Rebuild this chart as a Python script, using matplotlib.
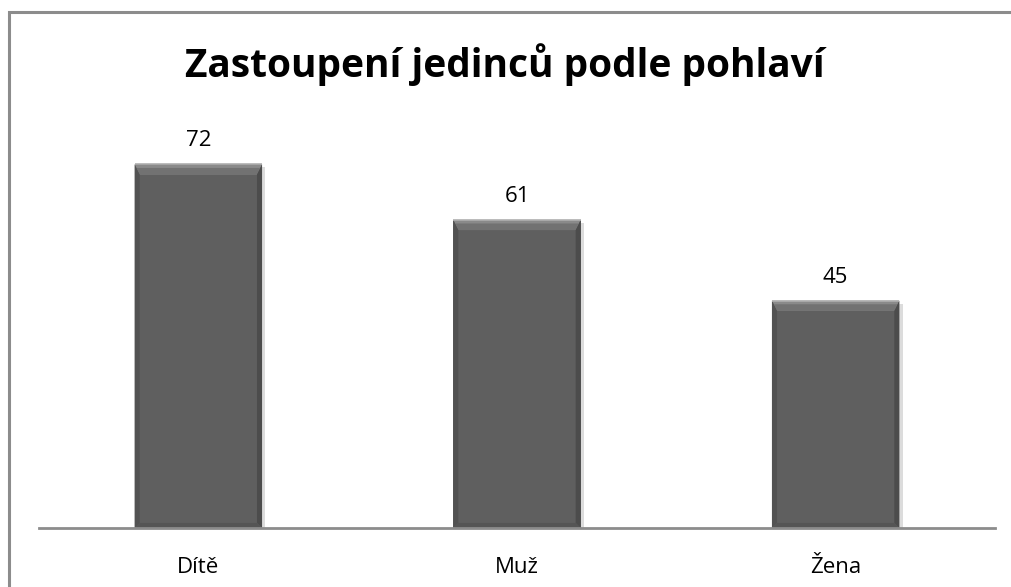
import matplotlib
matplotlib.use("Agg")
import matplotlib.pyplot as plt
from matplotlib.patches import Polygon, Rectangle

# data
categories = ["Dítě", "Muž", "Žena"]
values = [72, 61, 45]
title = "Zastoupení jedinců podle pohlaví"

plt.rcParams['font.family'] = ['Open Sans', 'DejaVu Sans']

fig = plt.figure(figsize=(10.12, 5.87), dpi=100)
fig.patch.set_facecolor("white")

# outer chart frame (only left/top visible in the crop)
frame = Rectangle((9 / 1012, -0.1), 1.2, 1 - 12 / 587 + 0.1, transform=fig.transFigure,
                  fill=False, edgecolor="#8c8c8c", linewidth=2.2)
fig.add_artist(frame)

ax = fig.add_axes([39 / 1012, 1 - 528 / 587, 956 / 1012, (528 - 124) / 587])
x = list(range(len(categories)))
bars = ax.bar(x, values, width=0.4, color="#5f5f5f", edgecolor="none", zorder=2)

ax.set_xlim(-0.5, len(categories) - 0.5)
ax.set_ylim(0, 80)

# bevel effect on each bar
dx = 0.016
dy = 2.0
for b in bars:
    x0, w, h = b.get_x(), b.get_width(), b.get_height()
    x1 = x0 + w
    # soft shadow on the right
    ax.add_patch(Rectangle((x1, 0), 0.010, h - 0.6, color="#dcdcdc", zorder=1, lw=0))
    # top bevel (lighter)
    ax.add_patch(Polygon([(x0, h), (x1, h), (x1 - dx, h - dy), (x0 + dx, h - dy)],
                         closed=True, color="#8a8a8a", lw=0, zorder=3))
    ax.add_patch(Polygon([(x0 + dx * 0.4, h - dy * 0.35), (x1 - dx * 0.4, h - dy * 0.35),
                          (x1 - dx, h - dy), (x0 + dx, h - dy)],
                         closed=True, color="#727272", lw=0, zorder=3))
    # left side
    ax.add_patch(Polygon([(x0, h), (x0 + dx, h - dy), (x0 + dx, dy * 0.5), (x0, 0)],
                         closed=True, color="#525252", lw=0, zorder=3))
    # right side
    ax.add_patch(Polygon([(x1, h), (x1 - dx, h - dy), (x1 - dx, dy * 0.5), (x1, 0)],
                         closed=True, color="#4c4c4c", lw=0, zorder=3))
    # bottom
    ax.add_patch(Polygon([(x0, 0), (x1, 0), (x1 - dx, dy * 0.5), (x0 + dx, dy * 0.5)],
                         closed=True, color="#555555", lw=0, zorder=3))
    # light top rim
    ax.plot([x0, x1], [h, h], color="#b0b0b0", lw=1.2, zorder=4, solid_capstyle="butt")
    ax.annotate(str(int(h)), (x0 + w / 2, h), xytext=(0, 13), textcoords="offset points",
                ha="center", va="baseline", fontsize=16, color="black")

for s in ["top", "right", "left"]:
    ax.spines[s].set_visible(False)
ax.spines["bottom"].set_color("#8c8c8c")
ax.spines["bottom"].set_linewidth(2)
ax.spines["bottom"].set_zorder(5)
ax.set_yticks([])
ax.set_xticks([])

# category labels below the axis line
for i, c in zip(x, categories):
    ax.annotate(c, (i, 0), xycoords=("data", "axes fraction"), xytext=(0, -32.4),
                textcoords="offset points", ha="center", va="baseline", fontsize=16,
                color="black", annotation_clip=False)

fig.text(505 / 1012, 1 - 77 / 587, title, ha="center", va="baseline",
         fontsize=28, fontweight="bold", color="black")

fig.savefig("out.png", dpi=100, facecolor="white")
